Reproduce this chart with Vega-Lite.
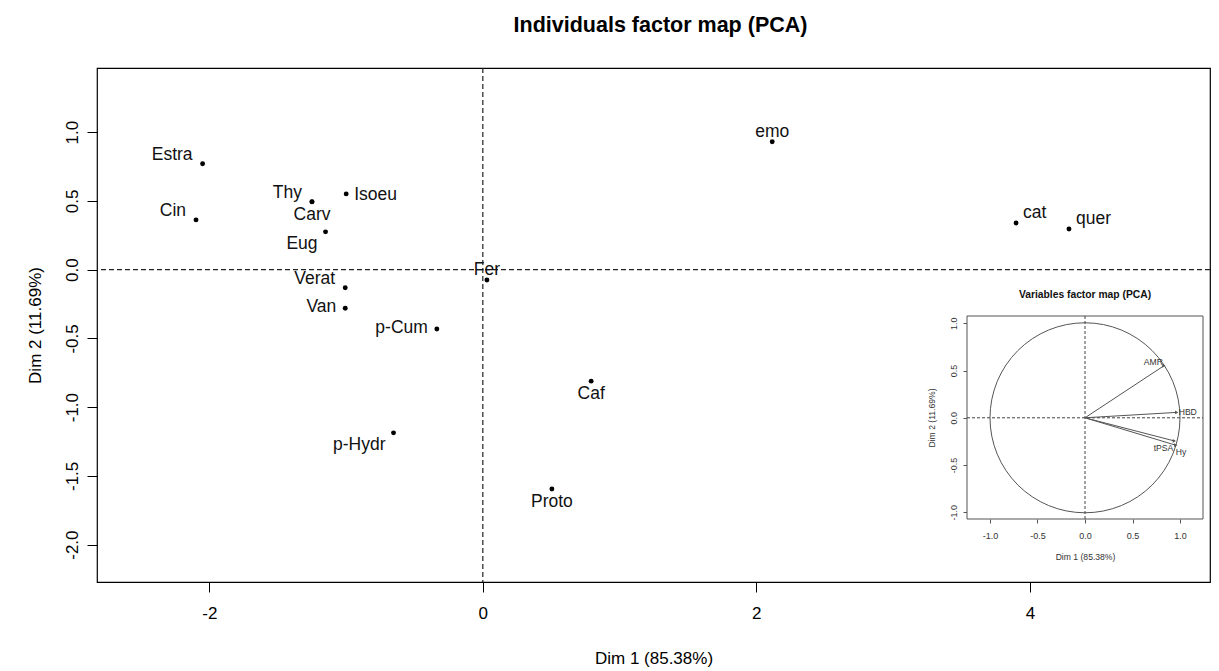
{
  "$schema": "https://vega.github.io/schema/vega-lite/v6.json",
  "width": 1113,
  "height": 514,
  "autosize": {"type": "none"},
  "padding": {"left": 97, "top": 68, "right": 9, "bottom": 89},
  "background": "white",
  "title": {"text": "Individuals factor map (PCA)", "font": "Liberation Sans", "fontSize": 21.5, "fontWeight": "bold", "color": "#000", "anchor": "middle", "dx": 7, "offset": 31},
  "config": {
    "view": {"stroke": "#000", "strokeWidth": 1.2},
    "font": "Liberation Sans",
    "axis": {"grid": false, "domain": false, "tickColor": "#000", "labelColor": "#000", "titleColor": "#000", "labelFont": "Liberation Sans", "titleFont": "Liberation Sans", "titleFontWeight": "normal"}
  },
  "datasets": {
    "ind": [
      {"name": "Estra", "x": -2.049, "y": 0.770},
      {"name": "Cin", "x": -2.097, "y": 0.362},
      {"name": "Thy", "x": -1.249, "y": 0.495},
      {"name": "Carv", "x": -1.249, "y": 0.493},
      {"name": "Isoeu", "x": -0.999, "y": 0.551},
      {"name": "Eug", "x": -1.150, "y": 0.275},
      {"name": "Verat", "x": -1.006, "y": -0.131},
      {"name": "Van", "x": -1.006, "y": -0.281},
      {"name": "Fer", "x": 0.030, "y": -0.075},
      {"name": "p-Cum", "x": -0.336, "y": -0.432},
      {"name": "Caf", "x": 0.792, "y": -0.811},
      {"name": "p-Hydr", "x": -0.653, "y": -1.187},
      {"name": "Proto", "x": 0.505, "y": -1.595},
      {"name": "emo", "x": 2.116, "y": 0.930},
      {"name": "cat", "x": 3.899, "y": 0.340},
      {"name": "quer", "x": 4.286, "y": 0.296}
    ],
    "var": [
      {"name": "AMR", "x": 0.83, "y": 0.55},
      {"name": "HBD", "x": 0.965, "y": 0.057},
      {"name": "tPSA", "x": 0.94, "y": -0.245},
      {"name": "Hy", "x": 0.955, "y": -0.29}
    ]
  },
  "layer": [
    {
      "layer": [
        {
          "data": {"values": [{}]},
          "mark": {"type": "rule", "strokeDash": [5, 3], "color": "#222", "strokeWidth": 1.2},
          "encoding": {"x": {"datum": 0, "type": "quantitative"}}
        },
        {
          "data": {"values": [{}]},
          "mark": {"type": "rule", "strokeDash": [5, 3], "color": "#222", "strokeWidth": 1.2},
          "encoding": {"y": {"datum": 0, "type": "quantitative"}}
        },
        {
          "data": {"name": "ind"},
          "mark": {"type": "point", "shape": "circle", "filled": true, "color": "#000", "size": 24, "opacity": 1},
          "encoding": {
            "x": {"field": "x", "type": "quantitative",
              "scale": {"domain": [-2.821, 5.317], "nice": false, "zero": false},
              "axis": {"orient": "bottom", "values": [-2, 0, 2, 4], "format": "d", "labelExpr": "replace(datum.label, '\u2212', '-')", "title": "Dim 1 (85.38%)", "labelFontSize": 17, "titleFontSize": 17, "tickSize": 10, "labelPadding": 13, "titlePadding": 29}},
            "y": {"field": "y", "type": "quantitative",
              "scale": {"domain": [-2.272, 1.467], "nice": false, "zero": false},
              "axis": {"orient": "left", "values": [-2, -1.5, -1, -0.5, 0, 0.5, 1], "format": ".1f", "labelExpr": "replace(datum.label, '\u2212', '-')", "labelAngle": -90, "labelAlign": "center", "labelBaseline": "bottom", "title": "Dim 2 (11.69%)", "labelFontSize": 17, "titleFontSize": 17, "tickSize": 10, "labelPadding": 6, "titlePadding": 19}}
          }
        },
        {
          "data": {"name": "ind"},
          "transform": [{"filter": {"field": "name", "oneOf": ["Estra", "Cin", "Thy", "Verat"]}}],
          "mark": {"type": "text", "align": "right", "baseline": "middle", "dx": -10, "dy": -9, "fontSize": 17.5, "color": "#111"},
          "encoding": {"x": {"field": "x", "type": "quantitative"}, "y": {"field": "y", "type": "quantitative"}, "text": {"field": "name"}}
        },
        {
          "data": {"name": "ind"},
          "transform": [{"filter": {"field": "name", "oneOf": ["Van", "p-Cum"]}}],
          "mark": {"type": "text", "align": "right", "baseline": "middle", "dx": -9, "dy": -1, "fontSize": 17.5, "color": "#111"},
          "encoding": {"x": {"field": "x", "type": "quantitative"}, "y": {"field": "y", "type": "quantitative"}, "text": {"field": "name"}}
        },
        {
          "data": {"name": "ind"},
          "transform": [{"filter": {"field": "name", "oneOf": ["Isoeu"]}}],
          "mark": {"type": "text", "align": "left", "baseline": "middle", "dx": 8, "dy": 1, "fontSize": 17.5, "color": "#111"},
          "encoding": {"x": {"field": "x", "type": "quantitative"}, "y": {"field": "y", "type": "quantitative"}, "text": {"field": "name"}}
        },
        {
          "data": {"name": "ind"},
          "transform": [{"filter": {"field": "name", "oneOf": ["cat", "quer"]}}],
          "mark": {"type": "text", "align": "left", "baseline": "middle", "dx": 7, "dy": -10, "fontSize": 17.5, "color": "#111"},
          "encoding": {"x": {"field": "x", "type": "quantitative"}, "y": {"field": "y", "type": "quantitative"}, "text": {"field": "name"}}
        },
        {
          "data": {"name": "ind"},
          "transform": [{"filter": {"field": "name", "oneOf": ["Fer", "emo"]}}],
          "mark": {"type": "text", "align": "center", "baseline": "middle", "dy": -10, "fontSize": 17.5, "color": "#111"},
          "encoding": {"x": {"field": "x", "type": "quantitative"}, "y": {"field": "y", "type": "quantitative"}, "text": {"field": "name"}}
        },
        {
          "data": {"name": "ind"},
          "transform": [{"filter": {"field": "name", "oneOf": ["Caf", "Proto", "Carv"]}}],
          "mark": {"type": "text", "align": "center", "baseline": "middle", "dy": 13, "fontSize": 17.5, "color": "#111"},
          "encoding": {"x": {"field": "x", "type": "quantitative"}, "y": {"field": "y", "type": "quantitative"}, "text": {"field": "name"}}
        },
        {
          "data": {"name": "ind"},
          "transform": [{"filter": {"field": "name", "oneOf": ["Eug", "p-Hydr"]}}],
          "mark": {"type": "text", "align": "right", "baseline": "middle", "dx": -8, "dy": 12, "fontSize": 17.5, "color": "#111"},
          "encoding": {"x": {"field": "x", "type": "quantitative"}, "y": {"field": "y", "type": "quantitative"}, "text": {"field": "name"}}
        }
      ]
    },
    {
      "layer": [
        {
          "data": {"values": [{}]},
          "mark": {"type": "rect", "fill": "white", "stroke": "#555", "strokeWidth": 1},
          "encoding": {
            "x": {"datum": -1.242, "type": "quantitative",
              "scale": {"domain": [-1.242, 1.242], "range": [870, 1106], "nice": false, "zero": false},
              "axis": {"orient": "bottom", "offset": -63, "values": [-1, -0.5, 0, 0.5, 1], "format": ".1f", "labelExpr": "replace(datum.label, '\u2212', '-')", "title": "Dim 1 (85.38%)", "labelFontSize": 9, "titleFontSize": 8.6, "tickSize": 4, "tickColor": "#555", "labelColor": "#333", "titleColor": "#333", "labelPadding": 8, "titlePadding": 12}},
            "x2": {"datum": 1.242},
            "y": {"datum": -1.071, "type": "quantitative",
              "scale": {"domain": [-1.071, 1.077], "range": [451, 248], "nice": false, "zero": false},
              "axis": {"orient": "left", "offset": -870, "values": [-1, -0.5, 0, 0.5, 1], "format": ".1f", "labelExpr": "replace(datum.label, '\u2212', '-')", "labelAngle": -90, "labelAlign": "center", "labelBaseline": "bottom", "title": "Dim 2 (11.69%)", "labelFontSize": 9, "titleFontSize": 8.6, "tickSize": 4, "tickColor": "#555", "labelColor": "#333", "titleColor": "#333", "labelPadding": 5, "titlePadding": 13}},
            "y2": {"datum": 1.077}
          }
        },
        {
          "data": {"values": [{}]},
          "mark": {"type": "point", "shape": "circle", "filled": false, "stroke": "#555", "strokeWidth": 1, "size": 36100, "opacity": 1},
          "encoding": {"x": {"datum": 0, "type": "quantitative"}, "y": {"datum": 0, "type": "quantitative"}}
        },
        {
          "data": {"values": [{}]},
          "mark": {"type": "rule", "strokeDash": [3, 2], "color": "#444", "strokeWidth": 1},
          "encoding": {"x": {"datum": -1.242, "type": "quantitative"}, "x2": {"datum": 1.242}, "y": {"datum": 0, "type": "quantitative"}}
        },
        {
          "data": {"values": [{}]},
          "mark": {"type": "rule", "strokeDash": [3, 2], "color": "#444", "strokeWidth": 1},
          "encoding": {"x": {"datum": 0, "type": "quantitative"}, "y": {"datum": -1.071, "type": "quantitative"}, "y2": {"datum": 1.077}}
        },
        {
          "data": {"name": "var"},
          "mark": {"type": "rule", "color": "#555", "strokeWidth": 1},
          "encoding": {"x": {"field": "x", "type": "quantitative"}, "y": {"field": "y", "type": "quantitative"}, "x2": {"datum": 0}, "y2": {"datum": 0}}
        },
        {
          "data": {"name": "var"},
          "mark": {"type": "point", "shape": "triangle-right", "filled": true, "color": "#555", "size": 14, "opacity": 1},
          "encoding": {"x": {"field": "x", "type": "quantitative"}, "y": {"field": "y", "type": "quantitative"}}
        },
        {
          "data": {"name": "var"},
          "transform": [{"filter": {"field": "name", "equal": "AMR"}}],
          "mark": {"type": "text", "align": "right", "baseline": "middle", "dx": -1, "dy": -4, "fontSize": 8.6, "color": "#333"},
          "encoding": {"x": {"field": "x", "type": "quantitative"}, "y": {"field": "y", "type": "quantitative"}, "text": {"field": "name"}}
        },
        {
          "data": {"name": "var"},
          "transform": [{"filter": {"field": "name", "equal": "HBD"}}],
          "mark": {"type": "text", "align": "left", "baseline": "middle", "dx": 2, "dy": 0, "fontSize": 8.6, "color": "#333"},
          "encoding": {"x": {"field": "x", "type": "quantitative"}, "y": {"field": "y", "type": "quantitative"}, "text": {"field": "name"}}
        },
        {
          "data": {"name": "var"},
          "transform": [{"filter": {"field": "name", "equal": "tPSA"}}],
          "mark": {"type": "text", "align": "right", "baseline": "middle", "dx": -1, "dy": 7, "fontSize": 8.6, "color": "#333"},
          "encoding": {"x": {"field": "x", "type": "quantitative"}, "y": {"field": "y", "type": "quantitative"}, "text": {"field": "name"}}
        },
        {
          "data": {"name": "var"},
          "transform": [{"filter": {"field": "name", "equal": "Hy"}}],
          "mark": {"type": "text", "align": "left", "baseline": "middle", "dx": 0, "dy": 7, "fontSize": 8.6, "color": "#333"},
          "encoding": {"x": {"field": "x", "type": "quantitative"}, "y": {"field": "y", "type": "quantitative"}, "text": {"field": "name"}}
        },
        {
          "data": {"values": [{"label": "Variables factor map (PCA)"}]},
          "mark": {"type": "text", "align": "center", "baseline": "middle", "fontSize": 10.3, "fontWeight": "bold", "color": "#111"},
          "encoding": {"x": {"datum": 0, "type": "quantitative"}, "y": {"datum": 1.30, "type": "quantitative"}, "text": {"field": "label"}}
        }
      ]
    }
  ],
  "resolve": {"scale": {"x": "independent", "y": "independent"}, "axis": {"x": "independent", "y": "independent"}}
}
